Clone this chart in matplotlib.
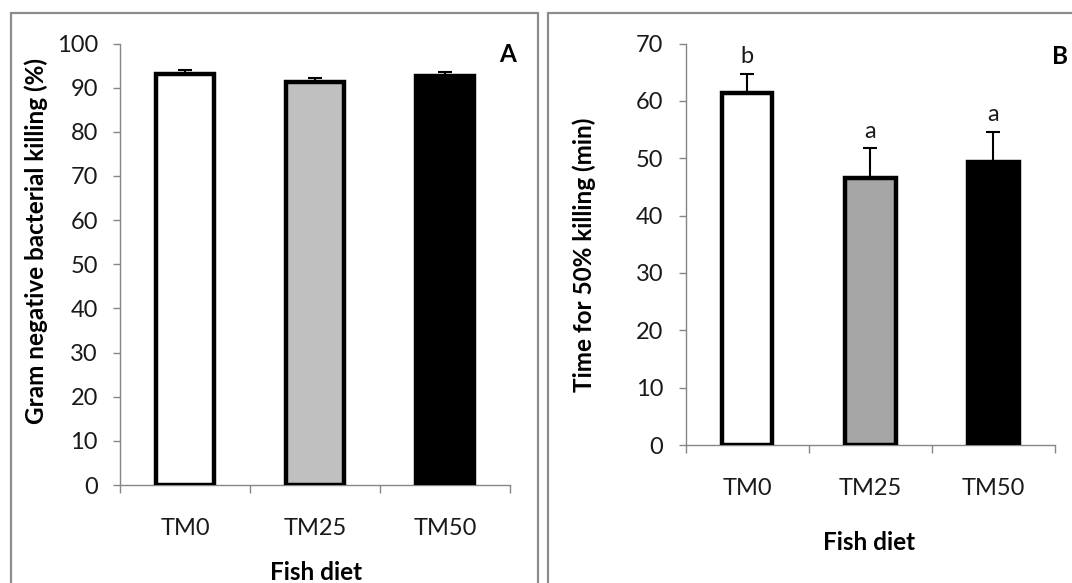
import matplotlib
matplotlib.use("Agg")
import matplotlib.pyplot as plt
from matplotlib.patches import Rectangle
import numpy as np

plt.rcParams['font.family'] = ['Lato', 'DejaVu Sans']

categories = ["TM0", "TM25", "TM50"]
killing_pct = [93.0, 91.3, 92.6]
killing_err = [1.1, 0.8, 1.0]
time50 = [61.4, 46.6, 49.3]
time50_err = [3.3, 5.1, 5.3]
time50_letters = ["b", "a", "a"]

colors_A = ["#ffffff", "#c0c0c0", "#000000"]
colors_B = ["#ffffff", "#a6a6a6", "#000000"]

W, H = 1072, 583
fig = plt.figure(figsize=(W / 100, H / 100), dpi=100)

def fx(px):
    return px / W

def fy(py):
    return 1 - py / H

# panel frames
for x0, x1 in [(10.7, 537.7), (548.3, 1080)]:
    fig.patches.append(Rectangle((fx(x0), fy(600)), fx(x1 - x0), (600 - 13) / H,
                                 transform=fig.transFigure, fill=False,
                                 edgecolor="#8c8c8c", linewidth=1.6, zorder=0))

axis_gray = "#868686"
FS = 17
LFS = 17.5

def style(ax, ymax, ystep):
    n = len(categories)
    ax.set_xlim(0, n)
    ax.set_ylim(0, ymax)
    ax.set_yticks(np.arange(0, ymax + 0.1, ystep))
    ax.set_xticks(np.arange(0, n + 1))
    ax.set_xticklabels([])
    ax.set_xticks(np.arange(n) + 0.5, minor=True)
    ax.set_xticklabels(categories, minor=True)
    for s in ["top", "right"]:
        ax.spines[s].set_visible(False)
    for s in ["left", "bottom"]:
        ax.spines[s].set_color(axis_gray)
        ax.spines[s].set_linewidth(1.0)
    ax.tick_params(axis="y", direction="out", length=5, width=1, color=axis_gray,
                   labelsize=FS, pad=11, labelcolor="#1a1a1a")
    ax.tick_params(axis="x", which="major", direction="out", length=6, width=1,
                   color=axis_gray)
    ax.tick_params(axis="x", which="minor", length=0, labelsize=FS, pad=24,
                   labelcolor="#1a1a1a")

# Panel A
axA = fig.add_axes([fx(120), fy(485), fx(390), 441.5 / H])
xpos = np.arange(len(categories)) + 0.5
axA.bar(xpos, killing_pct, width=0.44, color=colors_A, edgecolor="black",
        linewidth=3.2, zorder=3)
axA.errorbar(xpos, killing_pct, yerr=[np.zeros(3), killing_err], fmt="none",
             ecolor="black", elinewidth=1.5, capsize=5, capthick=1.5, zorder=2)
style(axA, 100, 10)

# Panel B
axB = fig.add_axes([fx(685.7), fy(445), fx(369.3), 401.5 / H])
axB.bar(xpos, time50, width=0.41, color=colors_B, edgecolor="black",
        linewidth=3.2, zorder=3)
axB.errorbar(xpos, time50, yerr=[np.zeros(3), time50_err], fmt="none",
             ecolor="black", elinewidth=1.5, capsize=5, capthick=1.5, zorder=2)
style(axB, 70, 10)
for x, v, e, lab in zip(xpos, time50, time50_err, time50_letters):
    axB.annotate(lab, (x, v + e), xytext=(0, 5), textcoords="offset points",
                 ha="center", va="bottom", fontsize=FS, color="#1a1a1a")

# Labels
fig.text(fx(36), fy(241), "Gram negative bacterial killing (%)", rotation=90,
         ha="center", va="center", fontsize=LFS, fontweight="bold")
fig.text(fx(584), fy(255), "Time for 50% killing (min)", rotation=90,
         ha="center", va="center", fontsize=LFS, fontweight="bold")
fig.text(fx(316), fy(573), "Fish diet", ha="center", va="center",
         fontsize=LFS, fontweight="bold")
fig.text(fx(869), fy(543), "Fish diet", ha="center", va="center",
         fontsize=LFS, fontweight="bold")
fig.text(fx(508), fy(55), "A", ha="center", va="center", fontsize=LFS,
         fontweight="bold")
fig.text(fx(1060), fy(56), "B", ha="center", va="center", fontsize=LFS,
         fontweight="bold")

fig.savefig("out.png", dpi=100)
